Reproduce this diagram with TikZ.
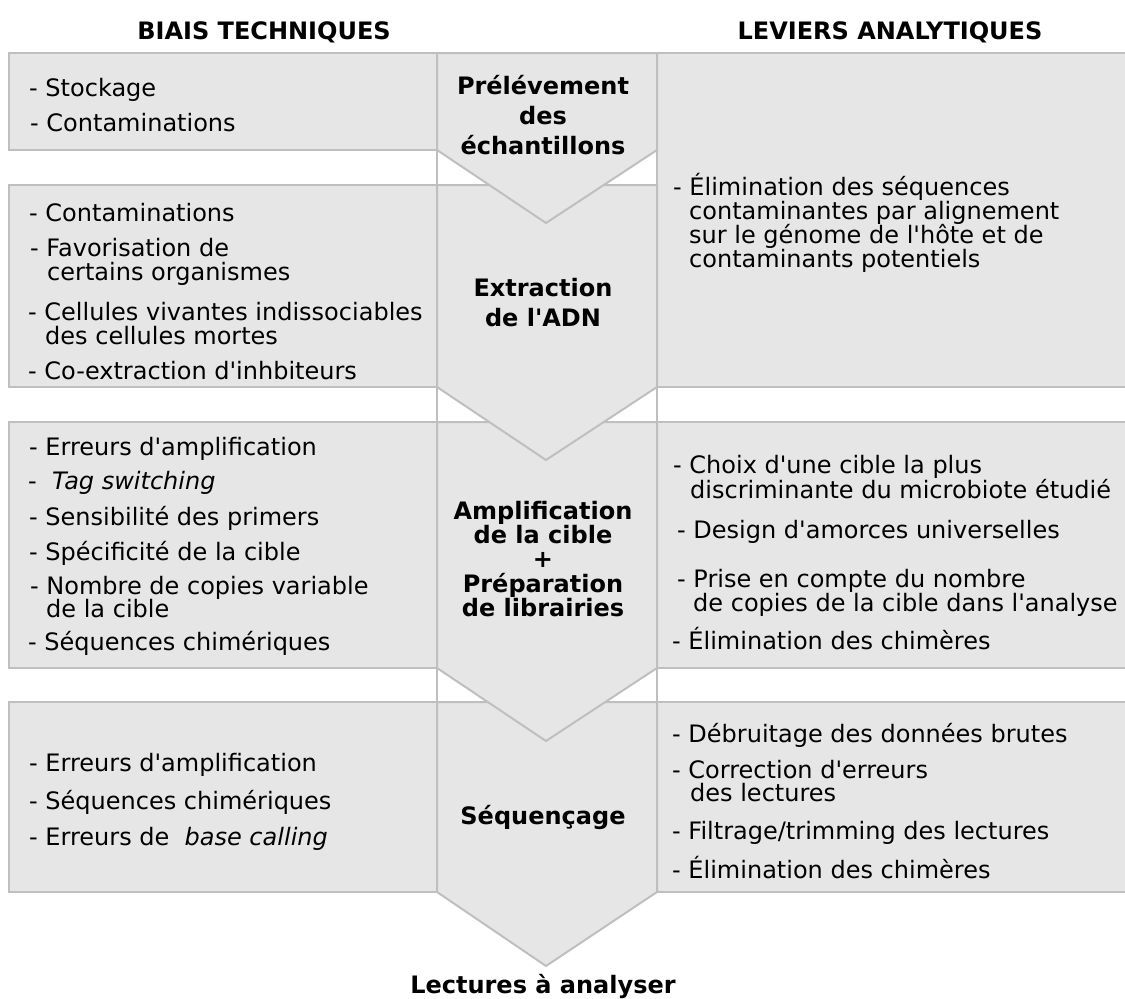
\documentclass[tikz,border=0pt]{standalone}
\usepackage{fontspec}
\newfontfamily\dv{DejaVu Sans}
\definecolor{boxfill}{HTML}{E6E6E6}
\definecolor{boxline}{HTML}{BFBFBF}
\tikzset{
  box/.style={draw=boxline, fill=boxfill, line width=2pt, line join=miter},
  gapline/.style={draw=boxline, line width=2pt},
  txt/.style={anchor=mid west, inner sep=0pt, yshift=-7pt, font=\dv\fontsize{24}{28}\selectfont},
  ttl/.style={anchor=mid, inner sep=0pt, yshift=-7pt, font=\dv\bfseries\fontsize{24}{28}\selectfont},
  hdr/.style={anchor=base, inner sep=0pt, font=\dv\bfseries\fontsize{24}{28}\selectfont}
}
\begin{document}
\begin{tikzpicture}[x=1pt,y=-1pt]
\useasboundingbox (0,0) rectangle (1125,999);

% headers
\node[hdr] (hleft) at (264,39) {BIAIS TECHNIQUES};
\node[hdr] (hright) at (890,39) {LEVIERS ANALYTIQUES};

% left boxes
\draw[box] (9,53) rectangle (437,150);
\draw[box] (9,185) rectangle (437,387);
\draw[box] (9,422) rectangle (437,668);
\draw[box] (9,702) rectangle (437,892);
% right boxes
\draw[box] (657,53) rectangle (1130,387);
\draw[box] (657,422) rectangle (1130,668);
\draw[box] (657,702) rectangle (1130,892);

% vertical lines across the gaps
\draw[gapline] (437,150) -- (437,185) (657,150) -- (657,185);
\draw[gapline] (437,387) -- (437,422) (657,387) -- (657,422);
\draw[gapline] (437,668) -- (437,702) (657,668) -- (657,702);

% chevrons (drawn bottom-up so upper ones overlap)
\draw[box] (437,702) -- (657,702) -- (657,892) -- (546,966) -- (437,892) -- cycle;
\draw[box] (437,422) -- (657,422) -- (657,668) -- (546,741) -- (437,668) -- cycle;
\draw[box] (437,185) -- (657,185) -- (657,387) -- (546,460) -- (437,387) -- cycle;
\draw[box] (437,53) -- (657,53) -- (657,150) -- (546,223) -- (437,150) -- cycle;

% centre titles
\node[ttl] (c1a) at (543,85) {Prélévement};
\node[ttl] (c1b) at (543,115) {des};
\node[ttl] (c1c) at (543,145) {échantillons};
\node[ttl] (c2a) at (543,287) {Extraction};
\node[ttl] (c2b) at (543,317) {de l'ADN};
\node[ttl] (c3a) at (543,510) {Amplification};
\node[ttl] (c3b) at (543,534) {de la cible};
\node[ttl] (c3c) at (543,558) {+};
\node[ttl] (c3d) at (543,583) {Préparation};
\node[ttl] (c3e) at (543,607) {de librairies};
\node[ttl] (c4a) at (543,815) {Séquençage};
\node[ttl] (out) at (543,984) {Lectures à analyser};

% left texts
\node[txt] (l1a) at (29,87) {- Stockage};
\node[txt] (l1b) at (30,122) {- Contaminations};

\node[txt] (l2a) at (29,212) {- Contaminations};
\node[txt] (l2b) at (30,247) {- Favorisation de};
\node[txt] (l2c) at (47,271) {certains organismes};
\node[txt] (l2d) at (28,311) {- Cellules vivantes indissociables};
\node[txt] (l2e) at (45,335) {des cellules mortes};
\node[txt] (l2f) at (28,370) {- Co-extraction d'inhbiteurs};

\node[txt] (l3a) at (29,446) {- Erreurs d'amplification};
\node[txt] (l3b) at (28,480) {-\ \ \itshape Tag switching};
\node[txt] (l3c) at (29,516) {- Sensibilité des primers};
\node[txt] (l3d) at (29,551) {- Spécificité de la cible};
\node[txt] (l3e) at (30,585) {- Nombre de copies variable};
\node[txt] (l3f) at (46,608) {de la cible};
\node[txt] (l3g) at (28,641) {- Séquences chimériques};

\node[txt] (l4a) at (29,762) {- Erreurs d'amplification};
\node[txt] (l4b) at (29,800) {- Séquences chimériques};
\node[txt] (l4c) at (29,836) {- Erreurs de \ \textit{base calling}};

% right texts
\node[txt] (r1a) at (673,186) {- Élimination des séquences};
\node[txt] (r1b) at (689,210) {contaminantes par alignement};
\node[txt] (r1c) at (689,234) {sur le génome de l'hôte et de};
\node[txt] (r1d) at (689,258) {contaminants potentiels};

\node[txt] (r3a) at (673,464) {- Choix d'une cible la plus};
\node[txt] (r3b) at (690,489) {discriminante du microbiote étudié};
\node[txt] (r3c) at (677,529) {- Design d'amorces universelles};
\node[txt] (r3d) at (677,578) {- Prise en compte du nombre};
\node[txt] (r3e) at (693,602) {de copies de la cible dans l'analyse};
\node[txt] (r3f) at (672,640) {- Élimination des chimères};

\node[txt] (r4a) at (672,733) {- Débruitage des données brutes};
\node[txt] (r4b) at (672,769) {- Correction d'erreurs};
\node[txt] (r4c) at (690,792) {des lectures};
\node[txt] (r4d) at (672,830) {- Filtrage/trimming des lectures};
\node[txt] (r4e) at (672,869) {- Élimination des chimères};
\end{tikzpicture}
\end{document}
